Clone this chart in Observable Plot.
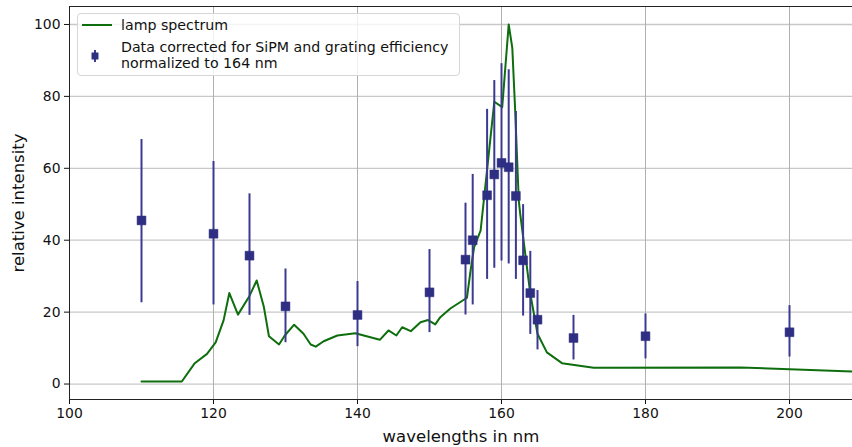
<!DOCTYPE html>
<html>
<head>
<meta charset="utf-8">
<script src="https://cdn.jsdelivr.net/npm/d3@7"></script>
<script src="https://cdn.jsdelivr.net/npm/@observablehq/plot@0.6"></script>
<style>
  html, body { margin: 0; padding: 0; background: white; }
  #wrap { position: relative; width: 852px; height: 447px; font-family: "DejaVu Sans", sans-serif; }
  #legend { position: absolute; left: 77px; top: 13px; width: 381px; height: 61px;
            border: 1px solid #d6d6d6; border-radius: 4px; background: rgba(255,255,255,0.8); }
</style>
</head>
<body>
<div id="wrap"></div>
<script>
// measured data (wavelength in nm)
const wavelengths = [110,120,125,130,140,150,155,156,158,159,160,161,162,163,164,165,170,180,200];
const intensity   = [45.5,41.8,35.7,21.6,19.2,25.5,34.6,40.0,52.5,58.3,61.5,60.3,52.3,34.4,25.3,17.9,12.8,13.3,14.4];
const errLow      = [22.6,22.0,19.1,11.5,10.4,14.3,19.2,22.0,29.1,32.2,34.2,33.4,29.1,18.9,13.8,9.5,6.7,7.0,7.5];
const errHigh     = [68.0,61.9,52.9,32.0,28.5,37.4,50.3,58.3,76.4,84.4,89.1,87.4,75.8,49.9,36.9,26.0,19.1,19.5,21.8];

// lamp spectrum
const lampWl  = [110,115.6,117.4,119.1,120.3,121.4,122.2,123.4,125.0,126.0,127.0,127.7,129.1,129.9,131.2,132.5,133.5,134.2,135.3,137.2,139.7,143.1,144.3,145.4,146.2,147.4,148.75,149.8,150.8,151.5,152.9,155.2,155.7,156.2,157.1,159.0,160.1,161.0,161.5,161.9,162.4,162.6,163.3,164.0,165.0,166.3,168.4,172.8,193.2,208.75];
const lampVal = [0.7,0.7,5.8,8.4,11.6,17.7,25.3,19.3,24.5,28.8,21.4,13.3,11.0,13.5,16.5,14.0,11.0,10.4,11.9,13.5,14.1,12.3,14.9,13.5,15.8,14.7,17.2,17.8,16.6,18.6,21.0,24.0,31.5,38.1,42.7,78.5,77.0,100.0,93.5,76.0,51.0,47.3,36.2,25.1,14.0,8.8,5.8,4.5,4.6,3.5];

const xTicks = [100,120,140,160,180,200];
const yTicks = [0,20,40,60,80,100];
const xDomain = [100, 208.75];
const yDomain = [-4.3, 105];

const points = wavelengths.map((w,i)=>({w, v:intensity[i], lo:errLow[i], hi:errHigh[i]}));
const lamp = lampWl.map((w,i)=>({w, v:lampVal[i]}));

const chart = Plot.plot({
  width: 852, height: 447,
  marginLeft: 69, marginRight: 0, marginTop: 6, marginBottom: 48,
  style: {fontFamily: "DejaVu Sans", fontSize: "13.9px", color: "#111", background: "white"},
  x: {domain: xDomain, ticks: xTicks, tickSize: 5, tickPadding: 4, label: null},
  y: {domain: yDomain, ticks: yTicks, tickSize: 5, tickPadding: 4, label: null},
  marks: [
    Plot.ruleY(yTicks, {stroke: "#c8c8c8", strokeWidth: 1.3}),
    Plot.ruleX(xTicks, {stroke: "#b0b0b0", strokeWidth: 1}),
    Plot.ruleX([xDomain[0]], {stroke: "#222", strokeWidth: 1}),
    Plot.ruleY([yDomain[0]], {stroke: "#222", strokeWidth: 1}),
    Plot.ruleY([yDomain[1]], {stroke: "#222", strokeWidth: 1}),
    Plot.line(lamp, {x: "w", y: "v", stroke: "#0e6e0e", strokeWidth: 2}),
    Plot.ruleX(points, {x: "w", y1: "lo", y2: "hi", stroke: "#3a3a90", strokeWidth: 2}),
    Plot.dot(points, {x: "w", y: "v", symbol: "square", r: 5, fill: "#2e2e82", stroke: "#2e2e82", strokeWidth: 0.5}),
    Plot.text(["wavelengths in nm"], {text: d => d, frameAnchor: "bottom", lineAnchor: "middle", textAnchor: "middle", dy: 37, fontSize: 16.5, fill: "#111"}),
    Plot.text(["relative intensity"], {text: d => d, frameAnchor: "left", lineAnchor: "middle", textAnchor: "middle", dx: -51, rotate: -90, fontSize: 16.5, fill: "#111"})
  ]
});

const wrap = document.getElementById("wrap");
wrap.appendChild(chart);

// legend overlay
const legendItems = ["lamp spectrum", "Data corrected for SiPM and grating efficiency", "normalized to 164 nm"];
const leg = document.createElement("div");
leg.id = "legend";
leg.innerHTML = `<svg width="381" height="61" style="font-family:'DejaVu Sans';font-size:14.2px">
  <line x1="4" x2="34" y1="11" y2="11" stroke="#0e6e0e" stroke-width="2"/>
  <text x="43" y="11" dominant-baseline="central" fill="#111">${legendItems[0]}</text>
  <line x1="17" x2="17" y1="36" y2="48" stroke="#3a3a90" stroke-width="2"/>
  <rect x="13.5" y="38.5" width="7" height="7" fill="#2e2e82"/>
  <text x="43" y="32.5" dominant-baseline="central" fill="#111">${legendItems[1]}</text>
  <text x="43" y="49" dominant-baseline="central" fill="#111">${legendItems[2]}</text>
</svg>`;
wrap.appendChild(leg);
</script>
</body>
</html>
